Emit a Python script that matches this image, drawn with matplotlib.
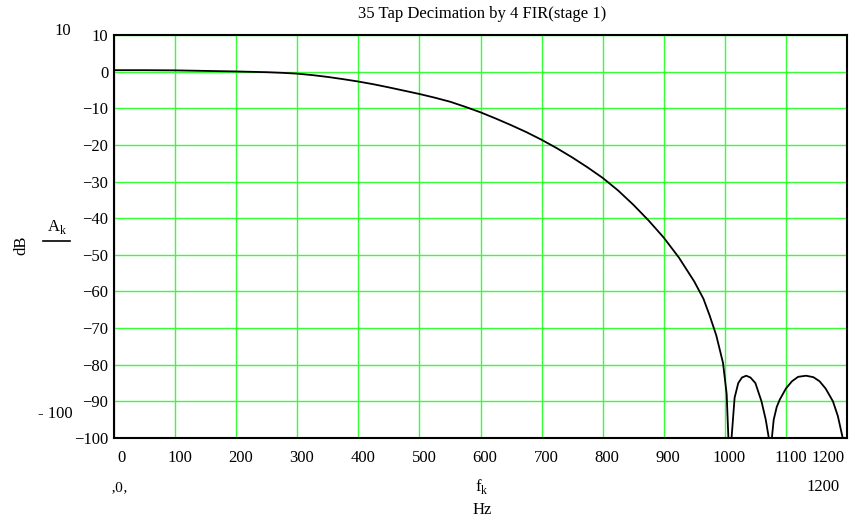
import matplotlib
matplotlib.use("Agg")
import matplotlib.pyplot as plt
from matplotlib.transforms import ScaledTranslation

# Frequency response samples (Hz, dB)
freq_hz = [0, 50, 100, 150, 200, 250, 275, 300, 325, 350, 375, 400, 425, 450,
           475, 500, 525, 550, 575, 600, 625, 650, 675, 700, 725, 750, 775,
           800, 825, 850, 875, 900, 925, 950, 965, 975, 986, 997, 1003, 1007,
           1009, 1011, 1016, 1022, 1028, 1035, 1042, 1050, 1060, 1067, 1072,
           1075, 1077, 1080, 1085, 1090, 1100, 1110, 1120, 1133, 1145, 1155,
           1165, 1177, 1185, 1193, 1200]
gain_db = [0.4, 0.4, 0.35, 0.2, 0.05, -0.15, -0.32, -0.55, -0.95, -1.45,
           -2.05, -2.7, -3.45, -4.3, -5.2, -6.1, -7.1, -8.2, -9.6, -11.1,
           -12.8, -14.6, -16.5, -18.6, -20.9, -23.4, -26.1, -29.0, -32.4,
           -36.3, -40.6, -45.3, -50.8, -57.3, -62.0, -66.5, -72.0, -79.5,
           -88.0, -105.0, -105.0, -100.0, -89.0, -85.0, -83.5, -83.0, -83.5,
           -85.0, -90.0, -95.0, -100.0, -105.0, -100.0, -95.0, -91.5, -89.5,
           -86.5, -84.5, -83.3, -83.0, -83.4, -84.5, -86.5, -90.0, -94.0,
           -100.0, -105.0]

x_ticks = [0, 100, 200, 300, 400, 500, 600, 700, 800, 900, 1000, 1100, 1200]
y_ticks = [10, 0, -10, -20, -30, -40, -50, -60, -70, -80, -90, -100]

title = "35 Tap Decimation by 4 FIR(stage 1)"

plt.rcParams['font.family'] = ['Liberation Serif', 'DejaVu Serif']

fig = plt.figure(figsize=(8.55, 5.29), dpi=100)
ax = fig.add_axes([114/855, 1 - 438/529, (847 - 114)/855, (438 - 35)/529])

ax.plot(freq_hz, gain_db, color='black', lw=1.3)
ax.set_xlim(0, 1200)
ax.set_ylim(-100, 10)
ax.set_xticks(x_ticks)
ax.set_yticks(y_ticks)
ax.set_xticklabels([str(v) for v in x_ticks])
ax.set_yticklabels([str(v).replace('-', '\u2212') for v in y_ticks])
ax.tick_params(length=0, labelsize=12)
ax.tick_params(axis='x', pad=9)
ax.tick_params(axis='y', pad=4)
ax.grid(True, color='#33ff33', lw=1.0)
ax.set_axisbelow(True)
for s in ax.spines.values():
    s.set_color('black')
    s.set_linewidth(1.5)

# shift x tick labels slightly right, like the reference
xlabels = ax.get_xticklabels()
for i, lab in enumerate(xlabels):
    dx = 4.5
    if i == 0:
        dx = 7.5
    if i == len(xlabels) - 1:
        lab.set_horizontalalignment('right')
        dx = -2
    lab.set_transform(lab.get_transform() +
                      ScaledTranslation(dx / 100, 0, fig.dpi_scale_trans))

fig.text(482/855, 1 - 14/529, title, ha='center', va='center', fontsize=12)
fig.text(63/855, 1 - 31/529, "10", ha='center', va='center', fontsize=12)
fig.text(55/855, 1 - 414/529, "- 100", ha='center', va='center', fontsize=12)
fig.text(120/855, 1 - 488/529, "\u201a0\u201a", ha='center', va='center', fontsize=11)
fig.text(823/855, 1 - 487/529, "1200", ha='center', va='center', fontsize=12)
fig.text(482/855, 1 - 487/529, r"f$_{\mathregular{k}}$", ha='center', va='center', fontsize=12)
fig.text(482/855, 1 - 510/529, "Hz", ha='center', va='center', fontsize=12)
fig.text(21/855, 1 - 245/529, "dB", ha='center', va='center', fontsize=12, rotation=90)
fig.text(57/855, 1 - 227/529, r"A$_{\mathregular{k}}$", ha='center', va='center', fontsize=12)
fig.add_artist(plt.Line2D([43/855, 70/855], [1 - 241/529, 1 - 241/529],
                          color='black', lw=1.2, transform=fig.transFigure))

fig.savefig("out.png", dpi=100)
